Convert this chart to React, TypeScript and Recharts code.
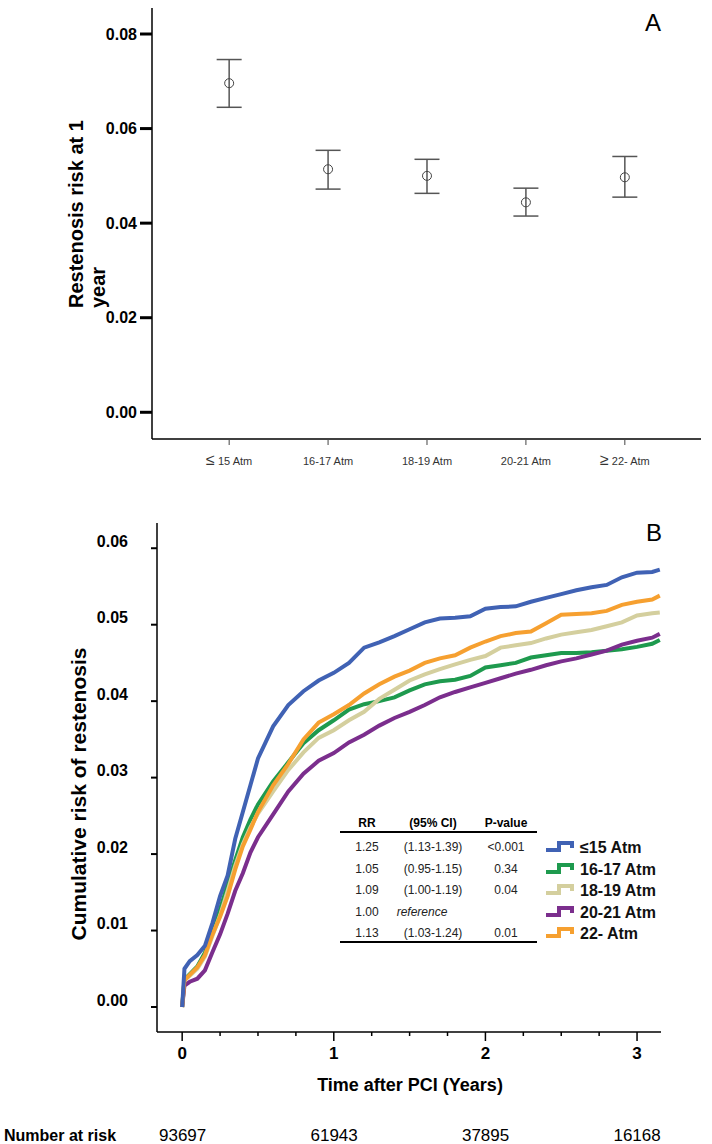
import React from "react";
import { ComposedChart, LineChart, Line, Scatter, ErrorBar, XAxis, YAxis } from "recharts";

// panel A: restenosis risk at 1 year by balloon pressure
const groups = ["≤ 15 Atm", "16-17 Atm", "18-19 Atm", "20-21 Atm", "≥ 22- Atm"];
const riskMean = [0.0696, 0.0514, 0.05, 0.0444, 0.0497];
const riskLow = [0.0645, 0.0472, 0.0463, 0.0415, 0.0455];
const riskHigh = [0.0746, 0.0554, 0.0535, 0.0474, 0.0541];
const riskTicks = [0, 0.02, 0.04, 0.06, 0.08];

// panel B: cumulative risk curves
const years = [0, 0.015, 0.05, 0.1, 0.15, 0.2, 0.25, 0.3, 0.35, 0.4, 0.45, 0.5, 0.6, 0.7, 0.8, 0.9, 1.0, 1.1, 1.2, 1.3, 1.4, 1.5, 1.6, 1.7, 1.8, 1.9, 2.0, 2.1, 2.2, 2.3, 2.4, 2.5, 2.6, 2.7, 2.8, 2.9, 3.0, 3.1, 3.15];
const le15 = [0, 0.005, 0.006, 0.0068, 0.008, 0.011, 0.0145, 0.0172, 0.022, 0.0255, 0.029, 0.0325, 0.0367, 0.0395, 0.0413, 0.0427, 0.0437, 0.045, 0.047, 0.0477, 0.0485, 0.0494, 0.0503, 0.0508, 0.0509, 0.0511, 0.0521, 0.0523, 0.0524, 0.053, 0.0535, 0.054, 0.0545, 0.0549, 0.0552, 0.0562, 0.0568, 0.0569, 0.0572];
const a1617 = [0, 0.0036, 0.0043, 0.0053, 0.0071, 0.0098, 0.0128, 0.016, 0.0192, 0.0222, 0.0245, 0.0265, 0.0295, 0.032, 0.0345, 0.0362, 0.0375, 0.0389, 0.0396, 0.04, 0.0405, 0.0414, 0.0422, 0.0426, 0.0428, 0.0433, 0.0444, 0.0447, 0.045, 0.0457, 0.046, 0.0463, 0.0463, 0.0464, 0.0466, 0.0468, 0.0471, 0.0475, 0.048];
const a1819 = [0, 0.0035, 0.0041, 0.005, 0.0066, 0.0093, 0.012, 0.0152, 0.0185, 0.0213, 0.0235, 0.0253, 0.0282, 0.031, 0.0333, 0.0352, 0.0362, 0.0375, 0.0386, 0.0403, 0.0415, 0.0427, 0.0435, 0.0442, 0.0448, 0.0454, 0.0459, 0.047, 0.0473, 0.0476, 0.0482, 0.0487, 0.049, 0.0493, 0.0498, 0.0503, 0.0512, 0.0515, 0.0516];
const a2021 = [0, 0.0028, 0.0033, 0.0037, 0.0048, 0.0072, 0.0095, 0.0122, 0.0152, 0.0175, 0.0202, 0.0222, 0.0252, 0.0282, 0.0305, 0.0322, 0.0332, 0.0346, 0.0356, 0.0368, 0.0378, 0.0386, 0.0395, 0.0405, 0.0412, 0.0418, 0.0424, 0.043, 0.0436, 0.0441, 0.0447, 0.0452, 0.0456, 0.0461, 0.0466, 0.0474, 0.0479, 0.0483, 0.0488];
const a22 = [0, 0.0035, 0.0042, 0.0052, 0.0068, 0.0095, 0.0118, 0.0145, 0.018, 0.021, 0.0232, 0.0255, 0.029, 0.0318, 0.035, 0.0372, 0.0383, 0.0395, 0.041, 0.0422, 0.0432, 0.044, 0.045, 0.0456, 0.046, 0.047, 0.0478, 0.0485, 0.0489, 0.0491, 0.0502, 0.0513, 0.0514, 0.0515, 0.0518, 0.0526, 0.053, 0.0533, 0.0538];
const legendNames = ["≤15 Atm", "16-17 Atm", "18-19 Atm", "20-21 Atm", "22- Atm"];
const colors = ["#4062B4", "#1E9A4E", "#D4CF9E", "#7B2E8D", "#F6A030"];
const rr = ["1.25", "1.05", "1.09", "1.00", "1.13"];
const ci = ["(1.13-1.39)", "(0.95-1.15)", "(1.00-1.19)", "reference", "(1.03-1.24)"];
const pval = ["<0.001", "0.34", "0.04", "", "0.01"];
const cumTicks = [0, 0.01, 0.02, 0.03, 0.04, 0.05, 0.06];
const yearTicks = [0, 0.25, 0.5, 0.75, 1, 1.25, 1.5, 1.75, 2, 2.25, 2.5, 2.75, 3];
const riskYears = [0, 1, 2, 3];
const atRisk = ["93697", "61943", "37895", "16168"];

const pointData = groups.map((g, i) => ({
  idx: i,
  mean: riskMean[i],
  err: [riskMean[i] - riskLow[i], riskHigh[i] - riskMean[i]],
}));
const curveData = years.map((t, i) => ({ t, s0: le15[i], s1: a1617[i], s2: a1819[i], s3: a2021[i], s4: a22[i] }));

// same x mapping as chart B plot area (157.5 .. 661, domain -0.166 .. 3.158)
const yearX = (t: number) => 157.5 + ((t + 0.166) / 3.324) * 503.5;

const GroupTick = ({ x, y, payload }: any) => {
  const label = groups[payload.value] ?? "";
  const sym = label.startsWith("≤") || label.startsWith("≥");
  return (
    <text x={x} y={y + 20} textAnchor="middle" fontSize={11} fill="#333">
      {sym ? <tspan fontSize={16}>{label[0]}</tspan> : null}
      {sym ? label.slice(1) : label}
    </text>
  );
};

const YearTick = ({ x, y, payload }: any) => {
  const major = Number.isInteger(payload.value);
  return (
    <g>
      <line x1={x} x2={x} y1={y} y2={y + (major ? 9 : 4)} stroke="#000" strokeWidth={1.5} />
      {major && (
        <text x={x} y={y + 27} textAnchor="middle" fontSize={17} fontWeight="bold" fill="#000">
          {payload.value}
        </text>
      )}
    </g>
  );
};

const CumTick = ({ x, y, payload }: any) => (
  <text x={x} y={y - 7} dy="0.35em" textAnchor="end" fontSize={16} fontWeight="bold" fill="#000">
    {payload.value.toFixed(2)}
  </text>
);

const Ring = ({ cx, cy }: any) => <circle cx={cx} cy={cy} r={4.5} fill="none" stroke="#444" strokeWidth={1} />;

export default function App() {
  const rowY = [847, 869, 890, 912, 933];
  return (
    <div style={{ position: "relative", width: 712, height: 1144, fontFamily: "'Liberation Sans', Arial, sans-serif", background: "#fff" }}>
      <style>{`body{margin:0}`}</style>
      <div style={{ position: "absolute", left: 0, top: 0 }}>
        <ComposedChart width={712} height={480} data={pointData} margin={{ top: 8, right: 11, bottom: 11, left: 0 }}>
          <XAxis
            type="number"
            dataKey="idx"
            domain={[-0.78, 4.77]}
            ticks={[0, 1, 2, 3, 4]}
            interval={0}
            allowDataOverflow
            height={30}
            tickSize={6}
            tickMargin={0}
            tick={<GroupTick />}
            tickLine={{ stroke: "#444", strokeWidth: 1 }}
            axisLine={{ stroke: "#000", strokeWidth: 1.5 }}
          />
          <YAxis
            type="number"
            dataKey="mean"
            domain={[-0.00565, 0.0855]}
            ticks={riskTicks}
            interval={0}
            allowDataOverflow
            width={152}
            tickSize={12}
            tickMargin={3}
            tickFormatter={(v: number) => v.toFixed(2)}
            tick={{ fontSize: 16, fontWeight: "bold", fill: "#000" }}
            tickLine={{ stroke: "#000", strokeWidth: 3 }}
            axisLine={{ stroke: "#000", strokeWidth: 1.5 }}
          />
          <Scatter dataKey="mean" shape={<Ring />} isAnimationActive={false}>
            <ErrorBar dataKey="err" direction="y" width={12.5} stroke="#555" strokeWidth={1.5} />
          </Scatter>
        </ComposedChart>
      </div>

      <div style={{ position: "absolute", left: 0, top: 480 }}>
        <LineChart width={712} height={664} data={curveData} margin={{ top: 43, right: 51, bottom: 82, left: 0 }}>
          <XAxis
            type="number"
            dataKey="t"
            domain={[-0.166, 3.158]}
            ticks={yearTicks}
            interval={0}
            allowDataOverflow
            height={30}
            tickSize={0}
            tickMargin={0}
            tick={<YearTick />}
            axisLine={{ stroke: "#000", strokeWidth: 1.5 }}
          />
          <YAxis
            type="number"
            domain={[-0.00327, 0.0633]}
            ticks={cumTicks}
            interval={0}
            allowDataOverflow
            width={157}
            tickSize={6}
            tickMargin={23}
            tick={<CumTick />}
            tickLine={{ stroke: "#000", strokeWidth: 2 }}
            axisLine={{ stroke: "#000", strokeWidth: 1.5 }}
          />
          <Line dataKey="s1" stroke={colors[1]} strokeWidth={4} dot={false} isAnimationActive={false} />
          <Line dataKey="s2" stroke={colors[2]} strokeWidth={4} dot={false} isAnimationActive={false} />
          <Line dataKey="s3" stroke={colors[3]} strokeWidth={4} dot={false} isAnimationActive={false} />
          <Line dataKey="s4" stroke={colors[4]} strokeWidth={4} dot={false} isAnimationActive={false} />
          <Line dataKey="s0" stroke={colors[0]} strokeWidth={4} dot={false} isAnimationActive={false} />
        </LineChart>
      </div>

      <svg width={712} height={1144} style={{ position: "absolute", left: 0, top: 0, pointerEvents: "none" }}>
        <text x={653} y={31} textAnchor="middle" fontSize={24} fill="#000">A</text>
        <text x={654} y={541} textAnchor="middle" fontSize={24} fill="#000">B</text>

        <g fontSize={20} fontWeight="bold" fill="#000">
          <text transform="translate(83,308) rotate(-90)" textAnchor="start">Restenosis risk at 1</text>
          <text transform="translate(105,308) rotate(-90)" textAnchor="start">year</text>
          <text transform="translate(86,794) rotate(-90)" textAnchor="middle" fontSize={21}>Cumulative risk of restenosis</text>
        </g>

        <text x={410} y={1091} textAnchor="middle" fontSize={18} fontWeight="bold" fill="#000">Time after PCI (Years)</text>
        <text x={4} y={1141} fontSize={16} fontWeight="bold" fill="#000">Number at risk</text>
        {atRisk.map((n, i) => (
          <text key={n} x={yearX(riskYears[i])} y={1141} textAnchor="middle" fontSize={17} fill="#000">{n}</text>
        ))}

        <g fontSize={12} fontWeight="bold" fill="#000" textAnchor="middle">
          <text x={367} y={827}>RR</text>
          <text x={433} y={827}>(95% CI)</text>
          <text x={506} y={827}>P-value</text>
        </g>
        <line x1={340} x2={537} y1={832} y2={832} stroke="#000" strokeWidth={2} />
        <line x1={340} x2={537} y1={942} y2={942} stroke="#000" strokeWidth={2} />
        {rowY.map((cy, i) => (
          <g key={i} fontSize={12} fill="#222" textAnchor="middle">
            <text x={367} y={cy + 4}>{rr[i]}</text>
            {ci[i] === "reference" ? (
              <text x={422} y={cy + 4} fontStyle="italic">{ci[i]}</text>
            ) : (
              <text x={433} y={cy + 4}>{ci[i]}</text>
            )}
            {pval[i] ? <text x={506} y={cy + 4}>{pval[i]}</text> : null}
          </g>
        ))}
        {rowY.map((cy, i) => (
          <g key={"l" + i}>
            <path d={`M546 ${cy + 3} H559 V${cy - 4} H572 V${cy + 1}`} fill="none" stroke={colors[i]} strokeWidth={4} />
            <text x={580} y={cy + 6} fontSize={16} fontWeight="bold" fill="#111">{legendNames[i]}</text>
          </g>
        ))}
      </svg>
    </div>
  );
}
